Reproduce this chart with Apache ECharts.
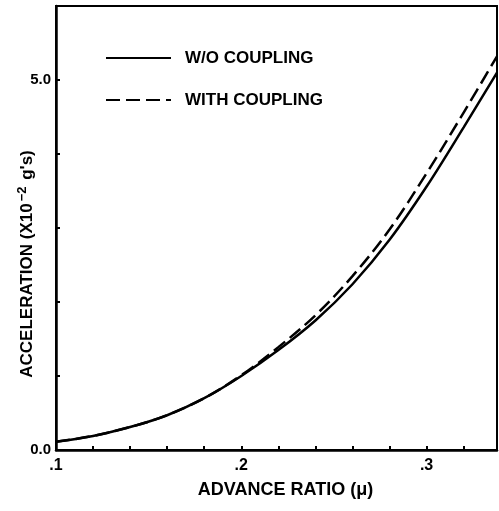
<!DOCTYPE html>
<html>
<head>
<meta charset="utf-8">
<script src="https://cdn.jsdelivr.net/npm/echarts@6/dist/echarts.min.js"></script>
<style>
html,body{margin:0;padding:0;background:#fff;}
#c{width:499px;height:511px;}
</style>
</head>
<body>
<div id="c"></div>
<script>
var advanceRatio = [0.10, 0.12, 0.14, 0.16, 0.18, 0.20, 0.22, 0.24, 0.26, 0.28, 0.30, 0.32, 0.338];
var withoutCoupling = [0.11, 0.19, 0.31, 0.47, 0.70, 1.00, 1.35, 1.75, 2.24, 2.84, 3.56, 4.36, 5.10];
var withCoupling =    [0.11, 0.19, 0.31, 0.47, 0.70, 1.01, 1.39, 1.82, 2.35, 2.98, 3.74, 4.56, 5.32];
var xTickLabels = {'1': '.1', '2': '.2', '3': '.3'};
var yTickLabels = {'0': '0.0', '5': '5.0'};
var seriesNames = ['W/O COUPLING', 'WITH COUPLING'];

function pairs(ys){ return advanceRatio.map(function(x,i){ return [x, ys[i]]; }); }

var chart = echarts.init(document.getElementById('c'));
var FONT = 'Liberation Sans';
chart.setOption({
  animation: false,
  backgroundColor: '#fff',
  grid: {left: 56, right: 2, top: 6, bottom: 61, show: true, borderColor: '#000', borderWidth: 2,
         containLabel: false, outerBoundsMode: 'none'},
  legend: {
    orient: 'vertical', left: 100, top: 43, itemWidth: 65, itemHeight: 20, itemGap: 22,
    data: seriesNames,
    itemStyle: {opacity: 0},
    textStyle: {fontFamily: FONT, fontWeight: 'bold', fontSize: 17, lineHeight: 20, color: '#000', padding: [0,0,0,9]}
  },
  xAxis: {
    type: 'value', min: 0.1, max: 0.338, interval: 0.02,
    axisLine: {lineStyle: {color: '#000', width: 2.5}},
    axisTick: {inside: true, length: 4, lineStyle: {color: '#000', width: 2}},
    splitLine: {show: false},
    axisLabel: {
      showMaxLabel: false, margin: 8,
      fontFamily: FONT, fontWeight: 'bold', fontSize: 16, color: '#000',
      formatter: function(v){
        var k = Math.round(v*10);
        if (Math.abs(v*10 - k) < 1e-6 && xTickLabels[k]) return xTickLabels[k];
        return '';
      }
    },
    name: 'ADVANCE RATIO (μ)', nameLocation: 'middle', nameGap: 31,
    nameTextStyle: {fontFamily: FONT, fontWeight: 'bold', fontSize: 18, color: '#000', padding: [0,0,0,18]}
  },
  yAxis: {
    type: 'value', min: 0, max: 6, interval: 1,
    axisLine: {lineStyle: {color: '#000', width: 2.5}},
    axisTick: {inside: true, length: 4, lineStyle: {color: '#000', width: 2}},
    splitLine: {show: false},
    axisLabel: {
      margin: 5, fontFamily: FONT, fontWeight: 'bold', fontSize: 15, color: '#000',
      formatter: function(v){ var k = Math.round(v); return yTickLabels[k] || ''; }
    },
    name: '{a|ACCELERATION (X10}{s|−2}{a| g\'s)}', nameLocation: 'middle', nameGap: 18, nameRotate: 90,
    nameMoveOverlap: false,
    nameTextStyle: {
      color: '#000', padding: [0, 72, 0, 0],
      rich: {
        a: {fontFamily: FONT, fontWeight: 'bold', fontSize: 17, color: '#000', lineHeight: 22},
        s: {fontFamily: FONT, fontWeight: 'bold', fontSize: 13, color: '#000', verticalAlign: 'top', lineHeight: 22, padding: [0,2,6,2]}
      }
    }
  },
  series: [
    {name: seriesNames[0], type: 'line', smooth: 0.35, symbol: 'none', data: pairs(withoutCoupling),
     lineStyle: {color: '#000', width: 2.5, type: 'solid'}, itemStyle: {color: '#000'}},
    {name: seriesNames[1], type: 'line', smooth: 0.35, symbol: 'none', data: pairs(withCoupling),
     lineStyle: {color: '#000', width: 2.5, type: [14, 6]}, itemStyle: {color: '#000'}}
  ]
});
</script>
</body>
</html>
